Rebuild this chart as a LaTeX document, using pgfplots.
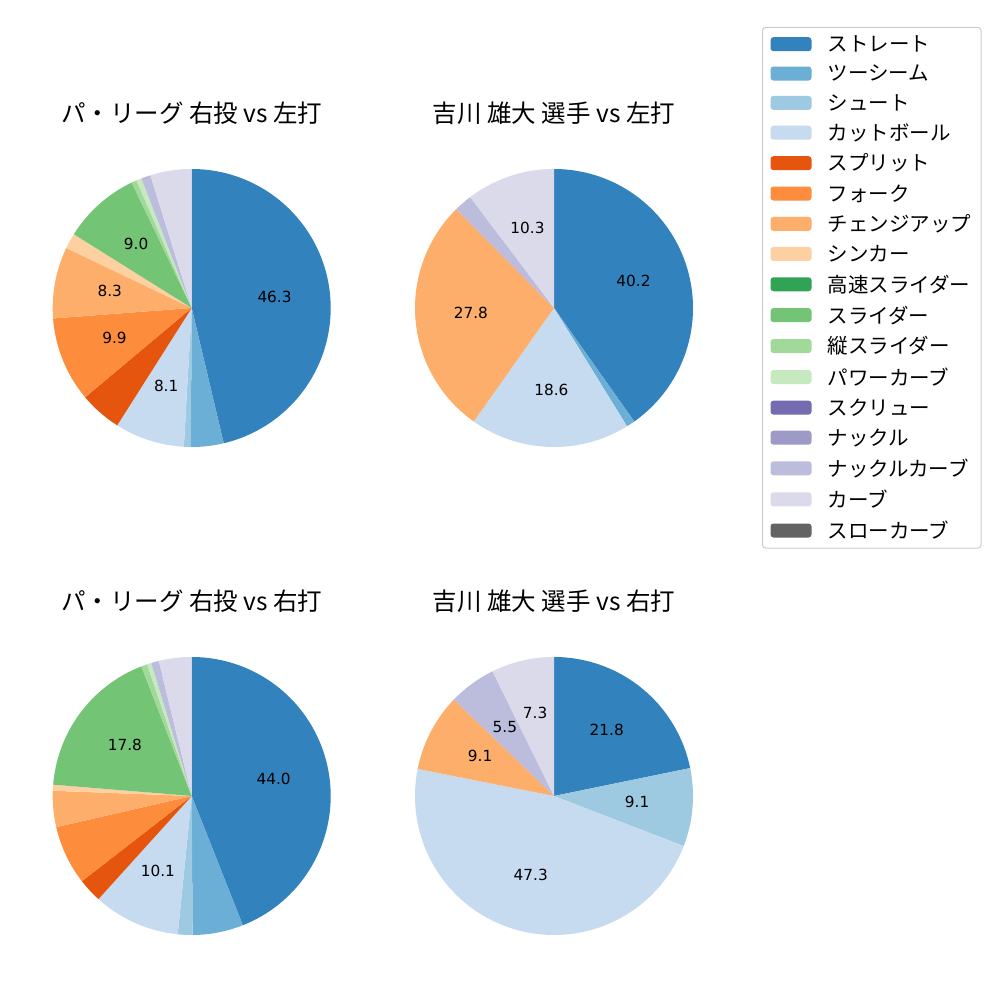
\documentclass[border=0pt]{standalone}
\usepackage{fontspec}
\setmainfont{Noto Sans CJK JP}
\newfontfamily\dv{DejaVu Sans}
\usepackage{pgfplots}
\usepackage{pgfplotstable}
\pgfplotsset{compat=1.18}

\definecolor{cA}{HTML}{3182BD}
\definecolor{cB}{HTML}{6BAED6}
\definecolor{cC}{HTML}{9ECAE1}
\definecolor{cD}{HTML}{C6DBEF}
\definecolor{cE}{HTML}{E6550D}
\definecolor{cF}{HTML}{FD8D3C}
\definecolor{cG}{HTML}{FDAE6B}
\definecolor{cH}{HTML}{FDD0A2}
\definecolor{cI}{HTML}{31A354}
\definecolor{cJ}{HTML}{74C476}
\definecolor{cK}{HTML}{A1D99B}
\definecolor{cL}{HTML}{C7E9C0}
\definecolor{cM}{HTML}{756BB1}
\definecolor{cN}{HTML}{9E9AC8}
\definecolor{cO}{HTML}{BCBDDC}
\definecolor{cP}{HTML}{DADAEB}
\definecolor{cQ}{HTML}{636363}

\newcommand\titlefont{\fontsize{24.5}{28}\selectfont}
\newcommand\legfont{\fontsize{20.5}{24}\selectfont}
\newcommand\labfont{\dv\fontsize{15.3}{18}\selectfont}

% pitch shares (percent); col = colour, lab = 1 if the value is printed
\pgfplotstableread{
val col lab
46.3 cA 1
3.8 cB 0
0.8 cC 0
8.1 cD 1
4.9 cE 0
9.9 cF 1
8.3 cG 1
1.8 cH 0
9.0 cJ 1
0.6 cK 0
0.6 cL 0
1.1 cO 0
4.8 cP 0
}\tabA
\pgfplotstableread{
val col lab
40.2 cA 1
1.0 cB 0
18.6 cD 1
27.8 cG 1
2.1 cO 0
10.3 cP 1
}\tabB
\pgfplotstableread{
val col lab
44.0 cA 1
5.9 cB 0
1.7 cC 0
10.1 cD 1
2.8 cE 0
6.9 cF 0
4.2 cG 0
0.7 cH 0
17.8 cJ 1
0.7 cK 0
0.5 cL 0
0.9 cO 0
3.8 cP 0
}\tabC
\pgfplotstableread{
val col lab
21.8 cA 1
9.1 cC 1
47.3 cD 1
9.1 cG 1
5.5 cO 1
7.3 cP 1
}\tabD

\newcommand\slice[3]{%
  \pgfmathsetmacro\sa{90-(360/\ptot)*\cum}%
  \pgfmathsetmacro\sb{90-(360/\ptot)*(\cum+#1)}%
  \pgfmathsetmacro\sm{(\sa+\sb)/2}%
  \edef\doit{\noexpand\addplot[fill=#2,draw=none,domain=\sb:\sa,samples=90] ({cos(x)},{sin(x)}) -- (axis cs:0,0) -- cycle;}\doit
  \ifnum#3=1\relax
    \edef\doit{\noexpand\node[font=\noexpand\labfont,yshift=1.4pt,inner sep=0pt] at (axis cs:{0.6*cos(\sm)},{0.6*sin(\sm)}) {#1};}\doit
  \fi
  \pgfmathsetmacro\tmp{\cum+#1}\xdef\cum{\tmp}%
}
\newcommand\drawpie[2]{%
  \xdef\cum{0}\xdef\ptot{#2}%
  \pgfplotstablegetrowsof{#1}\pgfmathtruncatemacro\nrows{\pgfplotsretval-1}%
  \pgfplotsforeachungrouped \i in {0,...,\nrows}{%
    \pgfplotstablegetelem{\i}{val}\of#1\let\pval\pgfplotsretval
    \pgfplotstablegetelem{\i}{col}\of#1\let\pcol\pgfplotsretval
    \pgfplotstablegetelem{\i}{lab}\of#1\let\plab\pgfplotsretval
    \slice{\pval}{\pcol}{\plab}%
  }%
}

\pgfplotsset{pie/.style={width=278pt,height=278pt,scale only axis,anchor=center,
  xmin=-1,xmax=1,ymin=-1,ymax=1,hide axis,clip=false,
  title style={at={(0.5,1)},anchor=center,yshift=49.8pt,font=\titlefont}}}

\begin{document}
\begin{tikzpicture}
\path[use as bounding box,fill=white] (0pt,0pt) rectangle (1000pt,1000pt);

\begin{axis}[pie,at={(191.7pt,692pt)},title={パ・リーグ 右投 vs 左打}]
\drawpie{\tabA}{100}
\end{axis}
\begin{axis}[pie,at={(554pt,692pt)},title={吉川 雄大 選手 vs 左打}]
\drawpie{\tabB}{100}
\end{axis}
\begin{axis}[pie,at={(191.7pt,204pt)},title={パ・リーグ 右投 vs 右打}]
\drawpie{\tabC}{100}
\end{axis}
\begin{axis}[pie,at={(554pt,204pt)},title={吉川 雄大 選手 vs 右打}]
\drawpie{\tabD}{100.1}
\end{axis}

\begin{axis}[at={(762pt,973pt)},anchor=south west,width=10pt,height=10pt,scale only axis,
  hide axis,xmin=0,xmax=1,ymin=0,ymax=1,
  legend cell align=left,
  legend image code/.code={\fill[#1,draw=none] (0pt,-7pt) rectangle (41pt,7pt);},
  legend style={at={(0,0)},anchor=north west,draw=black!20,line width=1pt,
    rounded corners=3pt,fill=white,font=\legfont,inner xsep=8pt,inner ysep=6pt,
    row sep=8.04pt,
    /tikz/every odd column/.append style={column sep=14pt}}]
\addlegendimage{fill=cA}\addlegendentry{ストレート}
\addlegendimage{fill=cB}\addlegendentry{ツーシーム}
\addlegendimage{fill=cC}\addlegendentry{シュート}
\addlegendimage{fill=cD}\addlegendentry{カットボール}
\addlegendimage{fill=cE}\addlegendentry{スプリット}
\addlegendimage{fill=cF}\addlegendentry{フォーク}
\addlegendimage{fill=cG}\addlegendentry{チェンジアップ}
\addlegendimage{fill=cH}\addlegendentry{シンカー}
\addlegendimage{fill=cI}\addlegendentry{高速スライダー}
\addlegendimage{fill=cJ}\addlegendentry{スライダー}
\addlegendimage{fill=cK}\addlegendentry{縦スライダー}
\addlegendimage{fill=cL}\addlegendentry{パワーカーブ}
\addlegendimage{fill=cM}\addlegendentry{スクリュー}
\addlegendimage{fill=cN}\addlegendentry{ナックル}
\addlegendimage{fill=cO}\addlegendentry{ナックルカーブ}
\addlegendimage{fill=cP}\addlegendentry{カーブ}
\addlegendimage{fill=cQ}\addlegendentry{スローカーブ}
\end{axis}
\end{tikzpicture}
\end{document}
